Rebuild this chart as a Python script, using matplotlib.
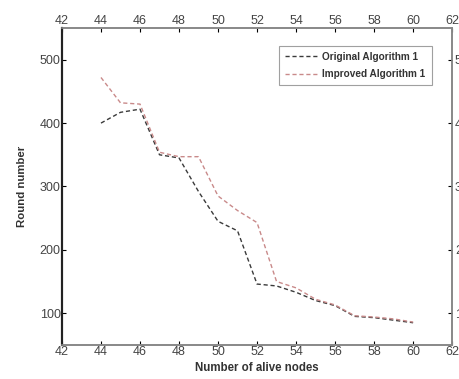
import matplotlib.pyplot as plt

# --- Data ---
alive_nodes = [44, 45, 46, 47, 48, 49, 50, 51, 52, 53, 54, 55, 56, 57, 58, 59, 60]
original_rounds = [400, 417, 422, 350, 345, 292, 245, 230, 146, 143, 133, 120, 112, 95, 93, 89, 85]
improved_rounds = [472, 432, 430, 354, 347, 347, 285, 262, 243, 150, 140, 122, 113, 96, 94, 91, 86]
x_ticks = list(range(42, 63, 2))
y_ticks = [100, 200, 300, 400, 500]

plt.rcParams['font.family'] = ['Liberation Sans', 'DejaVu Sans']

fig = plt.figure(figsize=(4.59, 3.79), dpi=100)
ax = fig.add_axes([0.135, 0.090, 0.850, 0.836])

ax.plot(alive_nodes, original_rounds, linestyle='--', color='#3a3a3a', linewidth=1.0,
        dashes=(3, 2), label='Original Algorithm 1')
ax.plot(alive_nodes, improved_rounds, linestyle='--', color='#c98a8a', linewidth=1.0,
        dashes=(3, 2), label='Improved Algorithm 1')

ax.set_xlim(42, 62)
ax.set_ylim(50, 550)
ax.set_xticks(x_ticks)
ax.set_yticks(y_ticks)
ax.tick_params(direction='in', length=3, labelsize=9, labelcolor='#444444',
               top=True, labeltop=True, pad=1)

# right-hand copy of the y axis (cut off by the image edge)
ax2 = ax.twinx()
ax2.set_ylim(50, 550)
ax2.set_yticks(y_ticks)
ax2.tick_params(direction='in', length=3, labelsize=9, labelcolor='#444444', pad=2)

for a in (ax, ax2):
    for side in ('top', 'right', 'bottom'):
        a.spines[side].set_color('#888888')
        a.spines[side].set_linewidth(1.2)
    a.spines['left'].set_color('#222222')
    a.spines['left'].set_linewidth(1.5)

ax.set_xlabel('Number of alive nodes', fontsize=8.3, fontweight='bold', color='#333333', labelpad=3)
ax.set_ylabel('Round number', fontsize=8.2, fontweight='bold', color='#333333', labelpad=9)

leg = ax.legend(loc='upper right', bbox_to_anchor=(0.96, 0.96),
                prop={'weight': 'bold', 'size': 7.2}, fancybox=False, edgecolor='#888888',
                handlelength=3.4, handletextpad=0.3, borderpad=0.6, labelspacing=0.75)
leg.get_frame().set_linewidth(0.8)
for t in leg.get_texts():
    t.set_color('#333333')

plt.savefig('out.png', dpi=100)
